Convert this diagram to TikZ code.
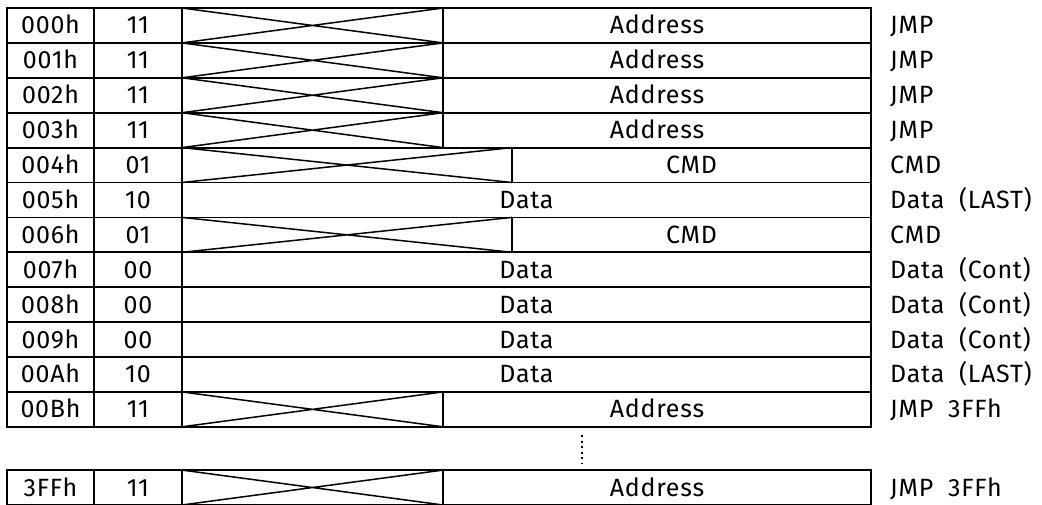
\documentclass[tikz,border=0pt]{standalone}
\usepackage{fontspec}
\setmainfont[LetterSpace=3]{Fira Sans}
\usepackage{tikz}
\usetikzlibrary{calc,positioning}
\tikzset{%
	cell/.style  = {line width=1.8pt},
	cross/.style = {line width=1.5pt},
	txt/.style   = {inner sep=0pt, text height=17pt, text depth=0pt, font=\fontsize{25}{30}\selectfont},
	side/.style  = {txt, anchor=west},
	gap/.style   = {line width=2pt, dash pattern=on 2pt off 3.5pt},
}

\begin{document}
\begin{tikzpicture}[x=1pt,y=-1pt]
	\useasboundingbox (0,0) rectangle (1042,504);
	
	% JMP rows
	\foreach \r/\adr/\cmt in {0/000h/JMP, 1/001h/JMP, 2/002h/JMP, 3/003h/JMP, 11/00Bh/JMP\ \ 3FFh, 13.24/3FFh/JMP\ \ 3FFh}{
		\pgfmathsetmacro{\ytop}{8+34.9*\r}
		\pgfmathsetmacro{\ybot}{\ytop+34.9}
		\pgfmathsetmacro{\ymid}{\ytop+17.45}
		\draw[cell] (7,\ytop) rectangle (871,\ybot) (94,\ytop) -- (94,\ybot) (182,\ytop) -- (182,\ybot) (443,\ytop) -- (443,\ybot);
		\draw[cross] (182,\ytop) -- (443,\ybot) (182,\ybot) -- (443,\ytop);
		\node[txt] (adr-\adr) at (50.5,\ymid) {\adr};
		\node[txt] (bit-\adr) at (138,\ymid) {11};
		\node[txt] (fld-\adr) at (657,\ymid) {Address};
		\node[side] (cmt-\adr) at (890,\ymid) {\cmt};
	}
	
	% CMD rows
	\foreach \r/\adr in {4/004h, 6/006h}{
		\pgfmathsetmacro{\ytop}{8+34.9*\r}
		\pgfmathsetmacro{\ybot}{\ytop+34.9}
		\pgfmathsetmacro{\ymid}{\ytop+17.45}
		\draw[cell] (7,\ytop) rectangle (871,\ybot) (94,\ytop) -- (94,\ybot) (182,\ytop) -- (182,\ybot) (512,\ytop) -- (512,\ybot);
		\draw[cross] (182,\ytop) -- (512,\ybot) (182,\ybot) -- (512,\ytop);
		\node[txt] (adr-\adr) at (50.5,\ymid) {\adr};
		\node[txt] (bit-\adr) at (138,\ymid) {01};
		\node[txt] (fld-\adr) at (691.5,\ymid) {CMD};
		\node[side] (cmt-\adr) at (890,\ymid) {CMD};
	}
	
	% Data rows
	\foreach \r/\adr/\bits/\cmt in {5/005h/10/LAST, 7/007h/00/Cont, 8/008h/00/Cont, 9/009h/00/Cont, 10/00Ah/10/LAST}{
		\pgfmathsetmacro{\ytop}{8+34.9*\r}
		\pgfmathsetmacro{\ybot}{\ytop+34.9}
		\pgfmathsetmacro{\ymid}{\ytop+17.45}
		\draw[cell] (7,\ytop) rectangle (871,\ybot) (94,\ytop) -- (94,\ybot) (182,\ytop) -- (182,\ybot);
		\node[txt] (adr-\adr) at (50.5,\ymid) {\adr};
		\node[txt] (bit-\adr) at (138,\ymid) {\bits};
		\node[txt] (fld-\adr) at (526.5,\ymid) {Data};
		\node[side] (cmt-\adr) at (890,\ymid) {Data\ \ (\cmt)};
	}
	
	% skipped rows
	\coordinate (skipA) at (582,435);
	\coordinate (skipB) at (582,464);
	\draw[gap] (skipA) -- (skipB);
\end{tikzpicture}
\end{document}
